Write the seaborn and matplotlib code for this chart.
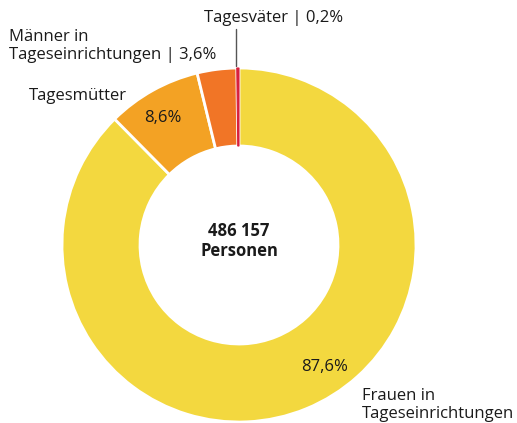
import matplotlib
matplotlib.use("Agg")
import matplotlib.pyplot as plt
import seaborn as sns

# --- data ---
groups = ["Frauen in Tageseinrichtungen", "Tagesmütter", "Männer in Tageseinrichtungen", "Tagesväter"]
shares = [87.6, 8.6, 3.6, 0.2]
share_labels = ["87,6%", "8,6%", "3,6%", "0,2%"]
total_label = "486 157\nPersonen"
colors = ["#F3D83F", "#F3A224", "#F17526", "#D8203D"]

sns.set_style("white")
plt.rcParams["font.family"] = ["Open Sans", "DejaVu Sans"]

W, H = 517, 423
fig = plt.figure(figsize=(W / 100, H / 100), dpi=100)
ax = fig.add_axes([0, 0, 1, 1])

def py(y):
    # pixel y (top-down) -> axis y
    return H - y

cx, cy, r_out, r_in = 239, 245, 177, 99
wedges, _ = ax.pie(shares, colors=colors, startangle=90, counterclock=False,
                   center=(cx, py(cy)), radius=r_out, frame=True,
                   wedgeprops=dict(width=r_out - r_in, edgecolor="white", linewidth=2))
# keep the tiny slice visible
wedges[-1].set_edgecolor(colors[-1])
wedges[-1].set_linewidth(0.8)
wedges[-1].set_zorder(5)

ax.set_xlim(0, W)
ax.set_ylim(0, H)
ax.set_aspect("equal")
ax.axis("off")

txt = dict(color="#1a1a1a", fontsize=12)

# centre text
ax.text(cx, py(241), total_label, ha="center", va="center", fontweight="bold",
        linespacing=1.15, **txt)

# inside labels
ax.text(163, py(118), share_labels[1], ha="center", va="center", **txt)
ax.text(325, py(367), share_labels[0], ha="center", va="center", **txt)

# outside labels
ax.text(204, py(18), f"Tagesväter | {share_labels[3]}", ha="left", va="center", **txt)
ax.plot([236, 236], [py(29), py(66)], color="#555555", lw=1)
ax.text(9, py(46), f"Männer in\nTageseinrichtungen | {share_labels[2]}", ha="left", va="center",
        linespacing=1.1, **txt)
ax.text(29, py(96), "Tagesmütter", ha="left", va="center", **txt)
ax.text(362, py(405), "Frauen in\nTageseinrichtungen", ha="left", va="center",
        linespacing=1.1, **txt)

fig.savefig("out.png", dpi=100)
